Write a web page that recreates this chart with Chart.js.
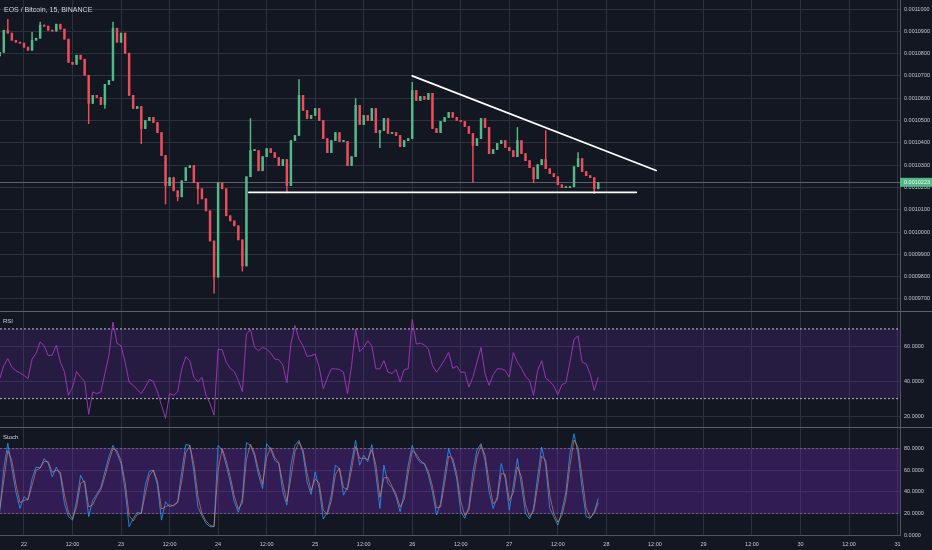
<!DOCTYPE html>
<html><head><meta charset="utf-8">
<script src="https://cdn.jsdelivr.net/npm/chart.js@4.4.1/dist/chart.umd.min.js"></script>
<style>
html,body{margin:0;padding:0;background:#131722;overflow:hidden;width:932px;height:550px}
.p{position:absolute;left:0;width:932px}
canvas{display:block}
.lbl{position:absolute;left:4px;font-family:"Liberation Sans",Arial,sans-serif;color:#d1d4dc;white-space:nowrap;line-height:1}
</style></head><body>
<div class="p" style="top:0;height:311px"><canvas id="c1" width="932" height="311"></canvas></div>
<div class="p" style="top:311px;height:116px"><canvas id="c2" width="932" height="116"></canvas></div>
<div class="p" style="top:427px;height:123px"><canvas id="c3" width="932" height="123"></canvas></div>
<div class="lbl" style="top:6px;font-size:7px">EOS / Bitcoin, 15, BINANCE</div>
<div class="lbl" style="top:318px;font-size:6px;left:3px">RSI</div>
<div class="lbl" style="top:434px;font-size:6px;left:3px">Stoch</div>
<script>
// ---- data (price in units of 1e-7 BTC, x in hours from the 22nd 00:00) ----
const FIRST_HOUR = -6;
const firstOpen = 10790;
const closes = [
10806,10905,10892,10860,10851,10847,10829,10815,10860,10869,10928,10923,
10905,10901,10932,10910,10865,10761,10752,10793,10775,10703,10577,10613,
10604,10572,10662,10680,10914,10851,10892,10802,10613,10554,10563,10464,
10500,10514,10491,10446,10343,10208,10244,10185,10158,10230,10289,10298,
10221,10194,10149,10095,9960,9798,10221,10194,10073,10050,10028,9965,
9848,10248,10365,10365,10275,10338,10374,10356,10334,10298,10325,10208,
10410,10433,10613,10545,10509,10523,10554,10500,10419,10356,10410,10446,
10406,10406,10298,10338,10568,10482,10523,10500,10554,10446,10455,10509,
10442,10446,10433,10383,10410,10419,10635,10590,10608,10595,10622,10464,
10446,10496,10514,10536,10514,10500,10496,10473,10442,10388,10419,10509,
10469,10352,10370,10397,10410,10379,10365,10338,10410,10352,10320,10289,
10239,10302,10325,10284,10262,10248,10212,10199,10199,10203,10293,10329,
10271,10253,10244,10194,10223];
const wickHigh = {'-4':10954,2:10896,4:10941,22:10941,56:10509,68:10684,82:10599,96:10671,122:10469,129:10455,137:10356};
const wickLow = {16:10486,20:10554,29:10396,35:10126,38:10140,43:10126,47:9726,54:9825,65:10176,88:10378,111:10222,126:10221,141:10172};
const lastPrice = 10223;
const trendTop = [{x:96.0,y:10700},{x:156.3,y:10276}];
const trendBottom = [{x:55.6,y:10178},{x:151.4,y:10178}];
const priceTicks = [9700,9800,9900,10000,10100,10200,10300,10400,10500,10600,10700,10800,10900,11000];
const rsi = [
41.4,49,53,48,46,44.8,43.3,41.4,52.7,56,62.5,60.3,
54.6,55,60.7,50.9,45.5,31.9,36.6,45.5,42.3,40,21,33.8,
32.8,33.8,44.2,55,74,61.8,60.3,50.9,39.5,37.6,35.3,32.8,
36.6,41,39.9,33.8,26.2,18.6,32.8,31.9,33.8,47.1,54,51.8,
42.3,39.5,42.3,31.9,27.2,20.5,58.4,58,50.9,47.4,45.5,40.4,
34,67,69.8,59.4,57.5,59.4,58.4,56.2,52.7,52.4,49.3,39.1,
61.3,72,64.1,60.3,54.3,54.6,55.6,48,35.7,41.8,47.1,47.1,
46.7,45.2,32.8,49,69.8,56.9,59.4,63.2,60.3,47.1,47.1,51.8,
45.2,44.4,46.7,39.5,46.7,47.1,75.5,61.3,61.8,60.9,58.4,49,
45.2,48.6,52.4,56.5,47.4,48.6,45.2,45.2,36.6,42.3,50.9,59.4,
44.2,37.6,43.7,47.1,47.1,46.1,42.3,56.5,50.9,47.4,42.9,40.4,
31.9,46.1,51.8,41.8,39.9,37.2,32.3,38,39.1,50.9,64,66,
50.9,49.9,44.2,34.7,42.3];
const rsiTicks = [20, 40, 60];
const stochK = [
21.5,61,85,62,40,24.6,35.4,32.3,52.3,63,62,70.8,
66.2,53.8,63,55.4,29.2,17,13.8,31.4,55.4,47.7,17,32.3,
37.8,44,58.5,72.6,83,75.4,66.2,41.5,7.7,15.4,21,20,
46.2,59,60,46.2,13.8,30.8,26.2,27.7,30.8,58.5,83.7,83,
58.5,26.2,17.8,10.8,7.7,7.7,83,78.5,64.6,49.2,30.8,21,
33.8,85.5,83,73.2,55.4,43,84.6,79.4,69.2,66.2,40,27.7,
64.6,83,87.7,75.4,49.2,37.5,58.5,43,14.8,21,36.9,64.6,
61.5,36.9,44.6,67.7,87.7,64.6,73.8,67.7,83.7,57,24.6,64.6,
47.7,43.7,35.4,21.5,38.5,64.6,83,72.3,67,66.2,55.4,40,
18.5,29.2,55.4,80,67.7,52.3,21.5,15.4,26.2,58.5,78.5,84.6,
69.2,40,24.6,35.4,66.2,52.3,23.1,46.2,70.8,46.2,20,14.8,
24.6,53.8,81.5,64.6,24.6,17,9.2,22.2,40,75.4,93.8,75.4,
43.1,17,15.4,21.5,34];
const stochD = [
24,50,78,69,47,30,32,33,46,60,62,68,
68,58,60,58,37,21,15,26,48,50,26,28,
36,42,54,68,80,78,69,49,18,13,19,20,
38,55,60,50,24,26,28,27,30,50,76,83,
66,36,20,13,9,8,60,80,69,54,36,24,
30,70,84,76,60,47,72,81,72,67,48,31,
53,77,86,79,57,41,52,48,23,19,32,56,
62,44,42,61,82,71,71,70,79,65,35,53,
53,45,38,26,33,57,78,75,69,66,59,45,
25,26,48,73,71,57,31,18,23,49,72,83,
74,49,29,32,57,56,32,39,63,54,28,17,
22,45,73,69,37,20,12,18,34,64,88,81,
53,25,16,20,30];
const stochTicks = [0, 20, 40, 60, 80];
const dayLabels = ['22','23','24','25','26','27','28','29','30','31'];
const rsiLevels = [70, 30];
const stochLevels = [80, 20];

// ---- axis ranges / styling ----
const X_MIN = -5.93, X_MAX = 216.6;
const P_MIN = 9646, P_MAX = 11040.5;
const RSI_MIN = 13.7, RSI_MAX = 80.3;
const FONT = '"Liberation Sans", Arial, sans-serif';
const GRID = '#2d313d', AXIS = '#50545f', TXT = '#c5c8d0', SEP = '#5a5e6a';
const UP = '#53b987', DOWN = '#eb4d5c';
Chart.defaults.font.family = FONT;
Chart.defaults.animation = false;

const hours = closes.map((_, i) => FIRST_HOUR + i);
const opens = closes.map((c, i) => i === 0 ? firstOpen : closes[i - 1]);
const bodyData = closes.map((c, i) => ({x: hours[i], y: [opens[i], c]}));
const wickData = closes.map((c, i) => {
  const h = hours[i];
  const lo = wickLow[h] !== undefined ? wickLow[h] : Math.min(opens[i], c);
  const hi = wickHigh[h] !== undefined ? wickHigh[h] : Math.max(opens[i], c);
  return {x: h, y: [lo, hi]};
});
const candleColors = closes.map((c, i) => c >= opens[i] ? UP : DOWN);

function xScale(showLabels) {
  return {
    type: 'linear', min: X_MIN, max: X_MAX, offset: false,
    grid: {color: GRID, drawTicks: false, offset: false},
    border: {display: showLabels, color: AXIS},
    ticks: {
      display: showLabels, stepSize: 12, includeBounds: false, maxTicksLimit: 40,
      autoSkip: false, maxRotation: 0, padding: 6, color: TXT, font: {size: 5.5},
      callback: v => (Math.round(v) % 24 === 0) ? dayLabels[Math.round(v) / 24] : '12:00'
    },
    afterBuildTicks(s) {
      const t = [];
      for (let d = 0; d < dayLabels.length; d++) { t.push({value: d * 24}); if (d < dayLabels.length - 1) t.push({value: d * 24 + 12}); }
      s.ticks = t;
    },
    afterFit(s) { s.height = showLabels ? 15 : 0; s.paddingLeft = 0; s.paddingRight = 0; }
  };
}
function yScale(min, max, tickVals, fmt) {
  return {
    position: 'right', min, max,
    grid: {drawTicks: false, color: GRID},
    border: {display: true, color: AXIS},
    ticks: {padding: 4, color: TXT, font: {size: 5.5}, autoSkip: false, callback: v => fmt(v)},
    afterBuildTicks(s) { s.ticks = tickVals.map(v => ({value: v})); },
    afterFit(s) { s.width = 32; s.paddingTop = 0; s.paddingBottom = 0; }
  };
}
const baseOpts = {
  responsive: false, animation: false,
  layout: {padding: 0, autoPadding: false},
  plugins: {legend: {display: false}, tooltip: {enabled: false}},
  events: []
};
const separator = {
  id: 'separator',
  afterDraw(chart) {
    const ctx = chart.ctx;
    ctx.save(); ctx.strokeStyle = SEP; ctx.lineWidth = 1;
    ctx.beginPath(); ctx.moveTo(0, 0.5); ctx.lineTo(chart.width, 0.5); ctx.stroke();
    ctx.restore();
  }
};
const pricePlugin = {
  id: 'lastPrice',
  beforeDatasetsDraw(chart) {
    const {ctx, chartArea: a, scales: {y}} = chart;
    const py = Math.round(y.getPixelForValue(lastPrice)) + 0.5;
    ctx.save(); ctx.strokeStyle = '#5c606c'; ctx.lineWidth = 1;
    ctx.beginPath(); ctx.moveTo(a.left, py); ctx.lineTo(a.right, py); ctx.stroke();
    ctx.restore();
  },
  afterDraw(chart) {
    const {ctx, chartArea: a, scales: {y}} = chart;
    const py = y.getPixelForValue(lastPrice);
    ctx.save();
    ctx.fillStyle = UP;
    ctx.fillRect(a.right, py - 4.5, chart.width - a.right, 9);
    ctx.fillStyle = '#eef8f2';
    ctx.font = '5.5px ' + FONT;
    ctx.textBaseline = 'middle'; ctx.textAlign = 'left';
    ctx.fillText((lastPrice / 1e7).toFixed(7), a.right + 4, py + 0.3);
    ctx.restore();
  }
};

// ---- price panel ----
new Chart(document.getElementById('c1'), {
  type: 'bar',
  data: {datasets: [
    {type: 'line', data: trendTop, borderColor: '#ffffff', borderWidth: 1.8, pointRadius: 0, order: 0, borderCapStyle: 'round'},
    {type: 'line', data: trendBottom, borderColor: '#ffffff', borderWidth: 1.8, pointRadius: 0, order: 0, borderCapStyle: 'round'},
    {type: 'bar', data: bodyData, backgroundColor: candleColors, barThickness: 1.8, minBarLength: 1, grouped: false, borderWidth: 0, order: 1},
    {type: 'bar', data: wickData, backgroundColor: candleColors, barThickness: 0.8, minBarLength: 1, grouped: false, borderWidth: 0, order: 2}
  ]},
  options: Object.assign({}, baseOpts, {
    scales: {
      x: xScale(false),
      y: yScale(P_MIN, P_MAX, priceTicks, v => (v / 1e7).toFixed(7))
    }
  }),
  plugins: [pricePlugin]
});

// ---- RSI panel ----
const lvl = v => [{x: X_MIN, y: v}, {x: X_MAX, y: v}];
new Chart(document.getElementById('c2'), {
  type: 'line',
  data: {datasets: [
    {data: lvl(rsiLevels[0]), borderColor: '#c9c9d2', borderWidth: 1, borderDash: [2, 2], pointRadius: 0,
      fill: '+1', backgroundColor: 'rgba(110,50,180,0.22)', order: 2},
    {data: lvl(rsiLevels[1]), borderColor: '#c9c9d2', borderWidth: 1, borderDash: [2, 2], pointRadius: 0, fill: false, order: 2},
    {data: rsi.map((v, i) => ({x: hours[i], y: v})), borderColor: '#9a34b2', borderWidth: 1, pointRadius: 0, tension: 0, fill: false, order: 0}
  ]},
  options: Object.assign({}, baseOpts, {
    scales: {
      x: xScale(false),
      y: yScale(RSI_MIN, RSI_MAX, rsiTicks, v => v.toFixed(4))
    }
  }),
  plugins: [separator]
});

// ---- Stoch panel ----
new Chart(document.getElementById('c3'), {
  type: 'line',
  data: {datasets: [
    {data: lvl(stochLevels[0]), borderColor: 'rgba(160,150,180,0.55)', borderWidth: 1, borderDash: [2, 2], pointRadius: 0,
      fill: '+1', backgroundColor: 'rgba(120,40,200,0.30)', order: 3},
    {data: lvl(stochLevels[1]), borderColor: 'rgba(160,150,180,0.55)', borderWidth: 1, borderDash: [2, 2], pointRadius: 0, fill: false, order: 3},
    {data: stochK.map((v, i) => ({x: hours[i], y: v})), borderColor: 'rgba(33,150,243,0.85)', borderWidth: 1, pointRadius: 0, tension: 0, fill: false, order: 1},
    {data: stochD.map((v, i) => ({x: hours[i], y: v})), borderColor: 'rgba(255,130,80,0.6)', borderWidth: 1, pointRadius: 0, tension: 0, fill: false, order: 0}
  ]},
  options: Object.assign({}, baseOpts, {
    scales: {
      x: xScale(true),
      y: yScale(0, 100, stochTicks, v => v.toFixed(4))
    }
  }),
  plugins: [separator]
});
</script>
</body></html>
